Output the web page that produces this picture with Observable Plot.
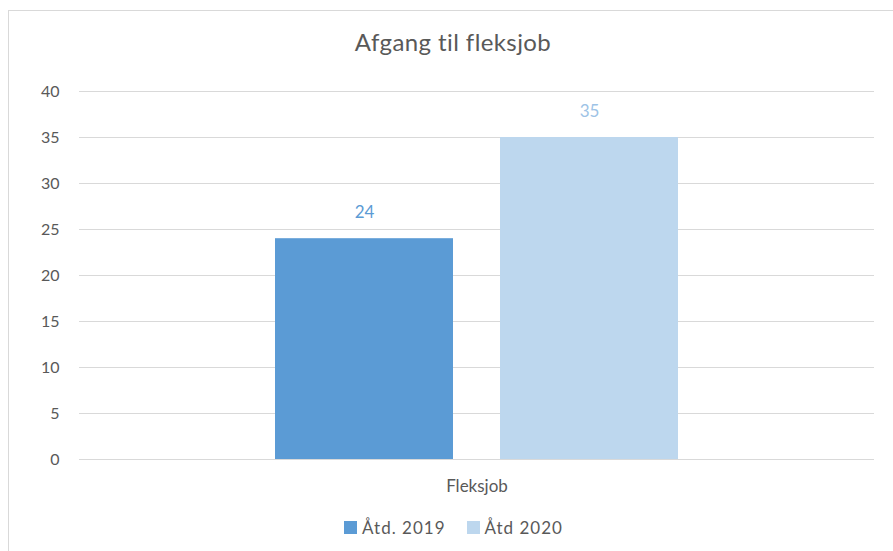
<!DOCTYPE html>
<html>
<head>
<meta charset="utf-8">
<script src="https://cdn.jsdelivr.net/npm/d3@7"></script>
<script src="https://cdn.jsdelivr.net/npm/@observablehq/plot@0.6"></script>
<style>
  html, body { margin: 0; padding: 0; background: #fff; width: 893px; height: 551px; overflow: hidden; }
  body { font-family: Lato, "Open Sans", sans-serif; color: #595959; position: relative; }
  #frame { position: absolute; left: 8px; top: 10px; right: -2px; bottom: -2px; border-left: 1.5px solid #d9d9d9; border-top: 1.5px solid #d9d9d9; }
  #title { position: absolute; left: 0; width: 906px; top: 27px; text-align: center; font-size: 24px; letter-spacing: 0.4px; color: #595959; }
  #chart { position: absolute; left: 0; top: 70px; }
  #legend { position: absolute; left: 0; width: 907px; top: 517px; display: flex; justify-content: center; gap: 21px; font-size: 17px; letter-spacing: 1px; color: #595959; }
  .item { display: flex; align-items: center; gap: 5px; }
  .sw { width: 13px; height: 13px; display: inline-block; }
</style>
</head>
<body>
<div id="frame"></div>
<div id="title"></div>
<div id="chart"></div>
<div id="legend"></div>
<script>
const title = "Afgang til fleksjob";
const categories = ["Fleksjob"];
const series = ["Åtd. 2019", "Åtd 2020"];
const values2019 = [24];
const values2020 = [35];
const colors = ["#5b9bd5", "#bdd7ee"];
const labelColors = ["#5b9bd5", "#9dc3e6"];
const yTicks = [0, 5, 10, 15, 20, 25, 30, 35, 40];

const data = [];
categories.forEach((c, i) => {
  data.push({category: c, series: series[0], value: values2019[i]});
  data.push({category: c, series: series[1], value: values2020[i]});
});

document.getElementById("title").textContent = title;

const plot = Plot.plot({
  width: 893,
  height: 430,
  marginTop: 21,
  marginBottom: 41,
  marginLeft: 79,
  marginRight: 19,
  style: {fontFamily: "Lato, 'Open Sans', sans-serif", fontSize: "16px", color: "#595959", background: "transparent"},
  x: {domain: series, paddingInner: 0.209, paddingOuter: 0.871, axis: null},
  y: {domain: [0, 40], ticks: yTicks, grid: false, label: null},
  color: {domain: series, range: colors},
  marks: [
    Plot.ruleY(yTicks, {stroke: "#d9d9d9", strokeWidth: 1.2}),
    Plot.axisY({ticks: yTicks, tickSize: 0, tickPadding: 20, label: null, fontSize: 16, letterSpacing: "0.5px"}),
    Plot.barY(data, {x: "series", y: "value", fill: "series"}),
    Plot.text(data, {x: "series", y: "value", text: d => String(d.value), dy: -26, fill: d => labelColors[series.indexOf(d.series)], fontSize: 17, letterSpacing: "1px"}),
    Plot.text(categories, {frameAnchor: "bottom", text: d => d, dy: 32, fontSize: 17, letterSpacing: "2px", fill: "#595959"})
  ]
});
document.getElementById("chart").appendChild(plot);

const legend = document.getElementById("legend");
series.forEach((s, i) => {
  const item = document.createElement("div");
  item.className = "item";
  const sw = document.createElement("span");
  sw.className = "sw";
  sw.style.background = colors[i];
  const t = document.createElement("span");
  t.textContent = s;
  item.appendChild(sw);
  item.appendChild(t);
  legend.appendChild(item);
});
</script>
</body>
</html>
